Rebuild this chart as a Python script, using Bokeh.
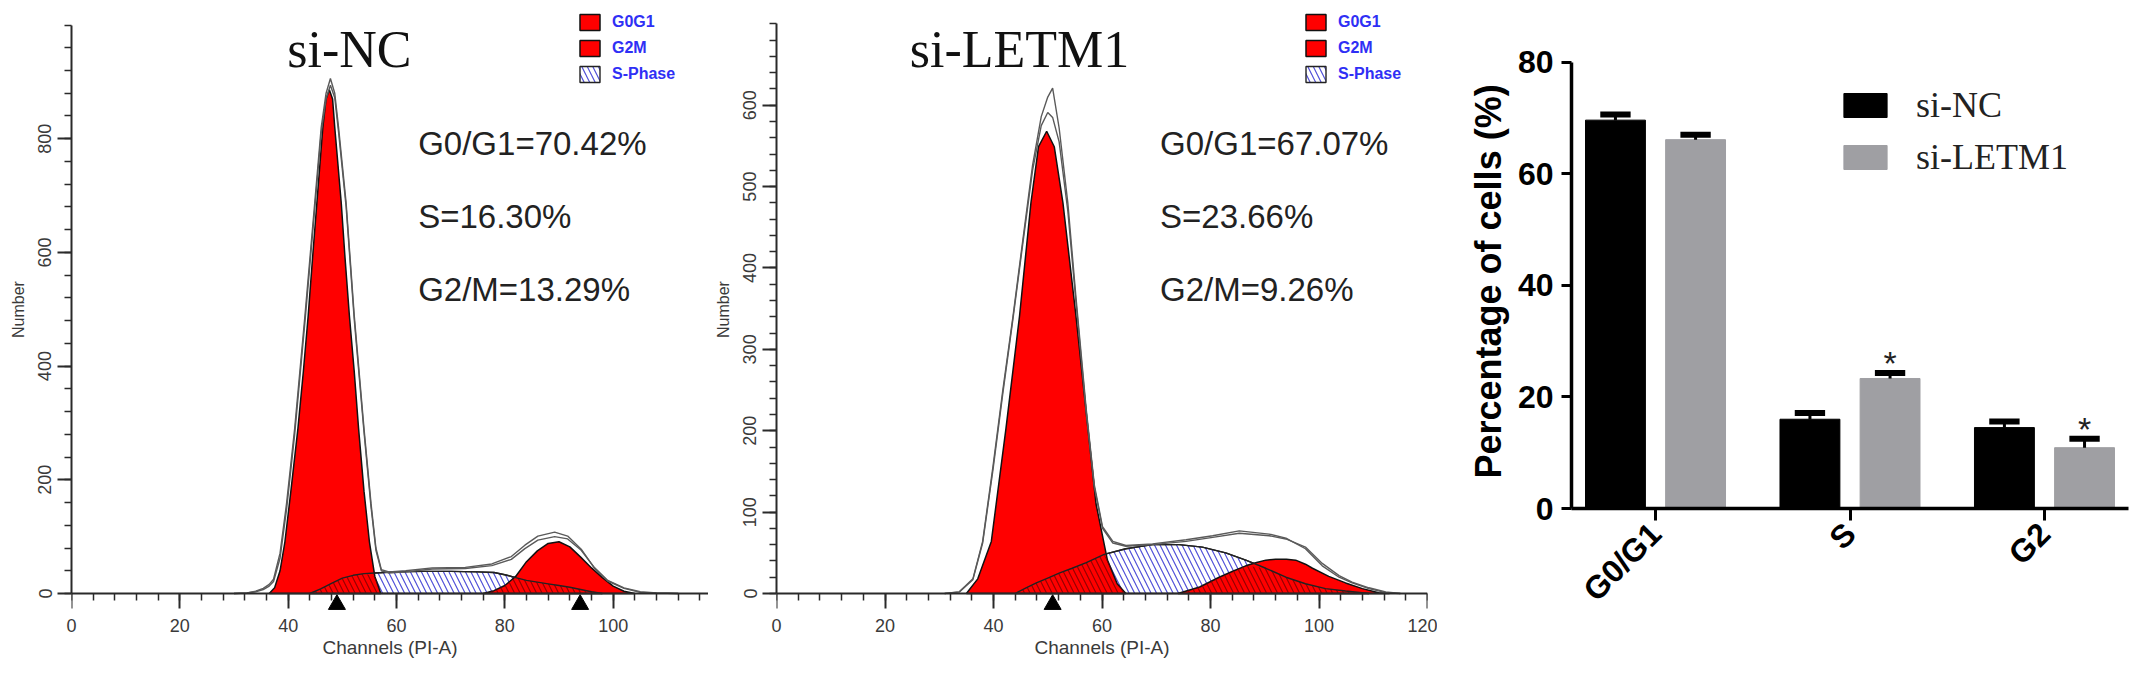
import math
import numpy as np
from bokeh.plotting import figure
from bokeh.models import Range1d, FixedTicker, Label, Legend, LegendItem, LinearAxis, Title
from bokeh.layouts import row
from bokeh.embed import file_html
from bokeh.resources import INLINE
from bokeh.core.properties import value

SANS = "Liberation Sans"
SERIF = "Liberation Serif"

# ---------------- data: si-NC DNA histogram (channel, number) ----------------
nc_g1_x = [36.5, 37.5, 38.5, 39.4, 40.5, 41.8, 42.8, 43.7, 44.5, 45.3, 46.4, 47.0,
           47.6, 48.2, 48.6, 49.8, 50.5, 51.3, 52.2, 53.0, 54.0, 55.0, 56.0, 57.1]
nc_g1_y = [0, 10, 40, 91, 180, 290, 390, 489, 590, 687, 820, 870,
           886, 870, 820, 687, 590, 489, 390, 290, 180, 91, 30, 0]
nc_g2_x = [76, 78, 80, 82, 84, 86, 88, 90, 92, 94, 96, 98, 100, 102, 104]
nc_g2_y = [0, 5, 14, 30, 56, 75, 88, 91, 82, 64, 45, 28, 13, 4, 0]
nc_s_x = [44, 46, 48, 50, 52, 54, 56, 60, 65, 70, 75, 78, 80, 82, 84, 86, 88, 90, 92, 94, 96, 98]
nc_s_y = [0, 8, 18, 27, 32, 35, 36, 38, 39, 39, 38, 37, 33, 28, 23, 20, 17, 14, 11, 7, 3, 0]
nc_env_x = [30.0, 32.4, 34.0, 35.4, 36.5, 37.3, 38.5, 39.7, 41.2, 43.1, 44.9, 46.1, 47.0,
            47.8, 48.6, 49.3, 50.7, 52.2, 54.0, 55.3, 56.2, 57.2, 58.6, 61.7, 66.6, 72.7,
            77.6, 81.2, 83.7, 86.1, 89.2, 91.6, 94.1, 96.5, 99.0, 102.0, 105.0, 108.0, 112.0]
nc_env_a = [0, 1, 4, 9, 16, 25, 71, 158, 290, 489, 687, 820, 880,
            906, 880, 820, 687, 489, 290, 158, 80, 42, 38, 40, 45, 46,
            52, 65, 85, 101, 108, 101, 78, 45, 22, 9, 2, 1, 0]
nc_env_b = [0, 1, 3, 7, 13, 21, 62, 148, 280, 478, 676, 810, 870,
            894, 872, 812, 680, 482, 284, 152, 76, 40, 36, 38, 43, 44,
            49, 60, 79, 94, 100, 96, 76, 46, 23, 10, 3, 1, 0]
nc_peaks = [49.0, 93.9]
nc_stats = ["G0/G1=70.42%", "S=16.30%", "G2/M=13.29%"]
nc_cross = [55.5, 81.0]      # channels where the S curve crosses the G1 / G2 curves

# ---------------- data: si-LETM1 DNA histogram ----------------
le_g1_x = [35.0, 37.1, 39.6, 42.3, 44.8, 46.9, 48.3, 49.8, 51.2, 52.8, 55.2, 57.4, 58.9, 61.0, 62.8, 64.4]
le_g1_y = [0, 18, 64, 203, 341, 480, 549, 568, 549, 480, 341, 203, 110, 41, 12, 0]
le_g2_x = [74.0, 78.0, 81.6, 84.0, 86.5, 88.5, 90.2, 92.0, 94.0, 95.7, 97.5, 98.8,
           101.8, 104.9, 108.0, 111.0, 113.0]
le_g2_y = [0, 8, 20, 27, 34, 38, 41, 42, 42, 41, 36, 31, 21, 13, 6, 1, 0]
le_s_x = [44.0, 46.0, 47.9, 50.0, 52.1, 54.5, 57.1, 60.4, 64.4, 69.3, 74.2, 78.5, 82.8,
          86.5, 90.2, 93.9, 97.5, 101.2, 104.9, 109.2]
le_s_y = [0, 7, 13, 19, 25, 31, 38, 48, 55, 60, 60, 57, 50, 41, 31, 20, 12, 6, 3, 0]
le_env_x = [31.0, 33.7, 36.2, 38.0, 39.9, 41.7, 43.6, 45.4, 47.2, 48.8, 50.0, 50.9, 52.1,
            53.7, 55.2, 57.1, 58.6, 60.1, 62.0, 64.4, 69.3, 75.5, 80.4, 85.3, 90.8, 93.9,
            97.5, 100.6, 103.7, 106.1, 109.2, 112.3, 115.0]
le_env_a = [0, 2, 18, 64, 156, 249, 341, 434, 526, 586, 610, 621, 572,
            480, 364, 226, 133, 82, 64, 59, 61, 66, 71, 77, 73, 68,
            55, 34, 20, 13, 6, 1, 0]
le_env_b = [0, 2, 17, 62, 152, 245, 338, 430, 520, 575, 591, 585, 555,
            470, 358, 222, 130, 80, 62, 58, 60, 64, 69, 74, 71, 67,
            57, 37, 22, 14, 7, 2, 0]
le_peaks = [50.9]
le_stats = ["G0/G1=67.07%", "S=23.66%", "G2/M=9.26%"]
le_cross = [60.5, 87.0]

# ---------------- data: cell-cycle distribution bar chart ----------------
phases = ["G0/G1", "S", "G2"]
nc_mean = [69.6, 16.0, 14.5]
nc_sem = [1.0, 1.1, 1.1]
letm1_mean = [66.1, 23.3, 10.9]
letm1_sem = [0.9, 1.0, 1.6]
letm1_sig = ["", "*", "*"]

AX_COL = "#3a3a3a"


def splice(ax, ay, bx, by, cross):
    """Outline of the area lying under both curves: curve a up to the crossing, then curve b."""
    xs = [x for x in ax if x <= cross] + [x for x in bx if x >= cross]
    ys = [y for x, y in zip(ax, ay) if x <= cross] + [y for x, y in zip(bx, by) if x >= cross]
    return xs, ys


def histogram(title, g1x, g1y, g2x, g2y, sx, sy, env_x, envs, peaks, stats, cross,
              xmax, ytop, x_major, x_minor, y_major, y_minor,
              frame_w, px_per_y, border_left, border_right,
              title_x, stats_x, legend_x):
    frame_h = 610
    below_px = 21
    y_lo = -below_px / px_per_y
    y_hi = y_lo + frame_h / px_per_y
    p = figure(frame_width=frame_w, frame_height=frame_h,
               x_range=Range1d(0, xmax), y_range=Range1d(y_lo, y_hi),
               output_backend="svg", toolbar_location=None,
               min_border_left=border_left, min_border_right=border_right,
               min_border_top=4, min_border_bottom=48)
    p.outline_line_color = None
    p.grid.visible = False
    p.background_fill_color = "white"
    p.border_fill_color = "white"

    xa = p.xaxis[0]
    xa.fixed_location = 0
    xa.ticker = FixedTicker(ticks=x_major, minor_ticks=x_minor)
    xa.major_label_text_color = None
    xa.major_tick_out = 15
    xa.major_tick_in = 0
    xa.minor_tick_out = 7
    xa.minor_tick_in = 0

    lab = LinearAxis(ticker=FixedTicker(ticks=x_major))
    lab.axis_line_color = None
    lab.major_tick_line_color = None
    lab.minor_tick_line_color = None
    lab.major_tick_out = 0
    lab.major_tick_in = 0
    lab.axis_label = "Channels (PI-A)"
    lab.axis_label_text_font = SANS
    lab.axis_label_text_font_size = "19px"
    lab.axis_label_text_font_style = "normal"
    lab.axis_label_text_color = AX_COL
    lab.axis_label_standoff = 2
    lab.major_label_text_font = SANS
    lab.major_label_text_font_size = "18px"
    lab.major_label_text_color = AX_COL
    lab.major_label_standoff = 4
    p.add_layout(lab, "below")

    ya = p.yaxis[0]
    ya.bounds = (0, ytop)
    ya.ticker = FixedTicker(ticks=y_major, minor_ticks=y_minor)
    ya.major_label_orientation = "vertical"
    ya.axis_label = "Number"
    ya.axis_label_text_font = SANS
    ya.axis_label_text_font_size = "16px"
    ya.axis_label_text_font_style = "normal"
    ya.axis_label_text_color = AX_COL
    ya.axis_label_standoff = 9
    ya.major_label_text_font = SANS
    ya.major_label_text_font_size = "18px"
    ya.major_label_text_color = AX_COL
    ya.major_label_standoff = 6
    ya.major_tick_out = 14
    ya.major_tick_in = 0
    ya.minor_tick_out = 7
    ya.minor_tick_in = 0

    for ax in (xa, ya):
        ax.axis_line_color = "#2a2a2a"
        ax.axis_line_width = 2
        ax.major_tick_line_color = "#2a2a2a"
        ax.major_tick_line_width = 2
        ax.minor_tick_line_color = "#2a2a2a"
        ax.minor_tick_line_width = 1.5

    hatch = dict(hatch_pattern="\\", hatch_scale=11, hatch_weight=1.2)
    r_s = p.patch(sx, sy, fill_color=None, hatch_color="#5050d8",
                  line_color="#222222", line_width=1.4, **hatch)
    r_g1 = p.patch(g1x, g1y, fill_color="#ff0000", line_color="#111111", line_width=1.5)
    r_g2 = p.patch(g2x, g2y, fill_color="#ff0000", line_color="#111111", line_width=1.5)
    ox, oy = splice(sx, sy, g1x, g1y, cross[0])
    p.patch(ox, oy, fill_color=None, line_color=None, hatch_color="#7a0000", hatch_alpha=0.8, **hatch)
    ox, oy = splice(g2x, g2y, sx, sy, cross[1])
    p.patch(ox, oy, fill_color=None, line_color=None, hatch_color="#7a0000", hatch_alpha=0.8, **hatch)
    p.line(sx, sy, line_color="#222222", line_width=1.4)

    for ey in envs:
        p.line(env_x, ey, line_color="#5a5a5a", line_width=1.4)

    marker_y = -(below_px - 10) / px_per_y
    p.scatter(peaks, [marker_y] * len(peaks), marker="triangle", size=17,
              fill_color="black", line_color="black")

    p.add_layout(Label(x=title_x, y=y_hi - 45 / px_per_y, text=title, text_font=SERIF,
                       text_font_size="52px", text_color="#111111", text_align="center",
                       text_baseline="alphabetic"))
    for k, s in enumerate(stats):
        p.add_layout(Label(x=stats_x, y=y_hi - (139 + 73 * k) / px_per_y, text=s,
                           text_font=SANS, text_font_size="33px", text_color="#222222",
                           text_align="left", text_baseline="middle"))

    leg = Legend(items=[LegendItem(label="G0G1", renderers=[r_g1]),
                        LegendItem(label="G2M", renderers=[r_g2]),
                        LegendItem(label="S-Phase", renderers=[r_s])],
                 location=(legend_x, frame_h - 8 - 72), orientation="vertical",
                 glyph_width=25, glyph_height=20, label_height=20, spacing=6,
                 label_standoff=10, padding=0, margin=0,
                 background_fill_alpha=0, border_line_alpha=0,
                 label_text_font=SANS, label_text_font_size="16px",
                 label_text_font_style="bold", label_text_color="#2f2ff5")
    p.add_layout(leg)
    return p


p1 = histogram("si-NC", nc_g1_x, nc_g1_y, nc_g2_x, nc_g2_y, nc_s_x, nc_s_y,
               nc_env_x, [nc_env_a, nc_env_b], nc_peaks, nc_stats, nc_cross,
               xmax=117.6, ytop=1000,
               x_major=list(range(0, 101, 20)), x_minor=list(range(0, 117, 4)),
               y_major=list(range(0, 801, 200)), y_minor=list(range(0, 1001, 40)),
               frame_w=637, px_per_y=0.5685, border_left=71, border_right=0,
               title_x=51.3, stats_x=64.0, legend_x=506)

p2 = histogram("si-LETM1", le_g1_x, le_g1_y, le_g2_x, le_g2_y, le_s_x, le_s_y,
               le_env_x, [le_env_a, le_env_b], le_peaks, le_stats, le_cross,
               xmax=120, ytop=700,
               x_major=list(range(0, 121, 20)), x_minor=list(range(0, 121, 4)),
               y_major=list(range(0, 601, 100)), y_minor=list(range(0, 701, 20)),
               frame_w=651, px_per_y=0.8138, border_left=68, border_right=10,
               title_x=44.8, stats_x=70.7, legend_x=527)

# ---------------- bar chart ----------------
px_per_pct = 5.58
p3 = figure(frame_width=557, frame_height=504,
            x_range=Range1d(-0.432, 2.432), y_range=Range1d(0, 504 / px_per_pct),
            output_backend="svg", toolbar_location=None,
            min_border_left=134, min_border_right=6, min_border_top=4, min_border_bottom=156)
p3.outline_line_color = None
p3.grid.visible = False

idx = np.arange(len(phases))
off, bw = 0.206, 0.308
r_nc = p3.vbar(x=idx - off, top=nc_mean, width=bw, fill_color="black", line_color="black")
r_le = p3.vbar(x=idx + off, top=letm1_mean, width=bw, fill_color="#9f9fa3", line_color="#9f9fa3")
for xs, m, e in [(idx - off, nc_mean, nc_sem), (idx + off, letm1_mean, letm1_sem)]:
    top = np.array(m) + np.array(e)
    p3.segment(x0=xs, y0=m, x1=xs, y1=top, line_width=3, line_color="black")
    p3.segment(x0=xs - 0.078, y0=top, x1=xs + 0.078, y1=top, line_width=6, line_color="black")

p3.text(x=idx + off, y=np.array(letm1_mean) + np.array(letm1_sem), text=letm1_sig,
        text_align="center", text_baseline="alphabetic", y_offset=-10,
        text_font=value(SANS), text_font_size="34px", text_color="#222222")

xa3 = p3.xaxis[0]
xa3.ticker = FixedTicker(ticks=[int(i) for i in idx])
xa3.major_label_overrides = {int(i): ph for i, ph in enumerate(phases)}
xa3.major_label_orientation = math.pi / 4
xa3.major_label_text_font = SANS
xa3.major_label_text_font_size = "32px"
xa3.major_label_text_font_style = "bold"
xa3.major_label_text_color = "black"
xa3.major_label_standoff = 8
xa3.major_tick_out = 12
xa3.major_tick_in = 0

ya3 = p3.yaxis[0]
ya3.bounds = (0, 80)
ya3.ticker = FixedTicker(ticks=[0, 20, 40, 60, 80])
ya3.major_label_text_font = SANS
ya3.major_label_text_font_size = "32px"
ya3.major_label_text_font_style = "bold"
ya3.major_label_text_color = "black"
ya3.major_label_standoff = 8
ya3.major_tick_out = 10
ya3.major_tick_in = 0

for ax in (xa3, ya3):
    ax.axis_line_color = "black"
    ax.axis_line_width = 3.5
    ax.major_tick_line_color = "black"
    ax.major_tick_line_width = 3
    ax.minor_tick_line_color = None

# y-axis title, placed on the 0-80 span of the axis (as in the reference)
p3.add_layout(Title(text="Percentage of cells (%)", align="left", offset=30, standoff=12,
                    text_font=SANS, text_font_size="36px", text_font_style="bold",
                    text_color="black"), "left")

leg3 = Legend(items=[LegendItem(label="si-NC", renderers=[r_nc]),
                     LegendItem(label="si-LETM1", renderers=[r_le])],
              location=(267, 330), orientation="vertical",
              glyph_width=54, glyph_height=30, label_height=30, spacing=10,
              label_standoff=24, padding=0, margin=0,
              background_fill_alpha=0, border_line_alpha=0,
              label_text_font=SERIF, label_text_font_size="36px", label_text_color="#222222")
p3.add_layout(leg3)

layout = row(p1, p2, p3)
open("out.html", "w").write(file_html(layout, INLINE))
